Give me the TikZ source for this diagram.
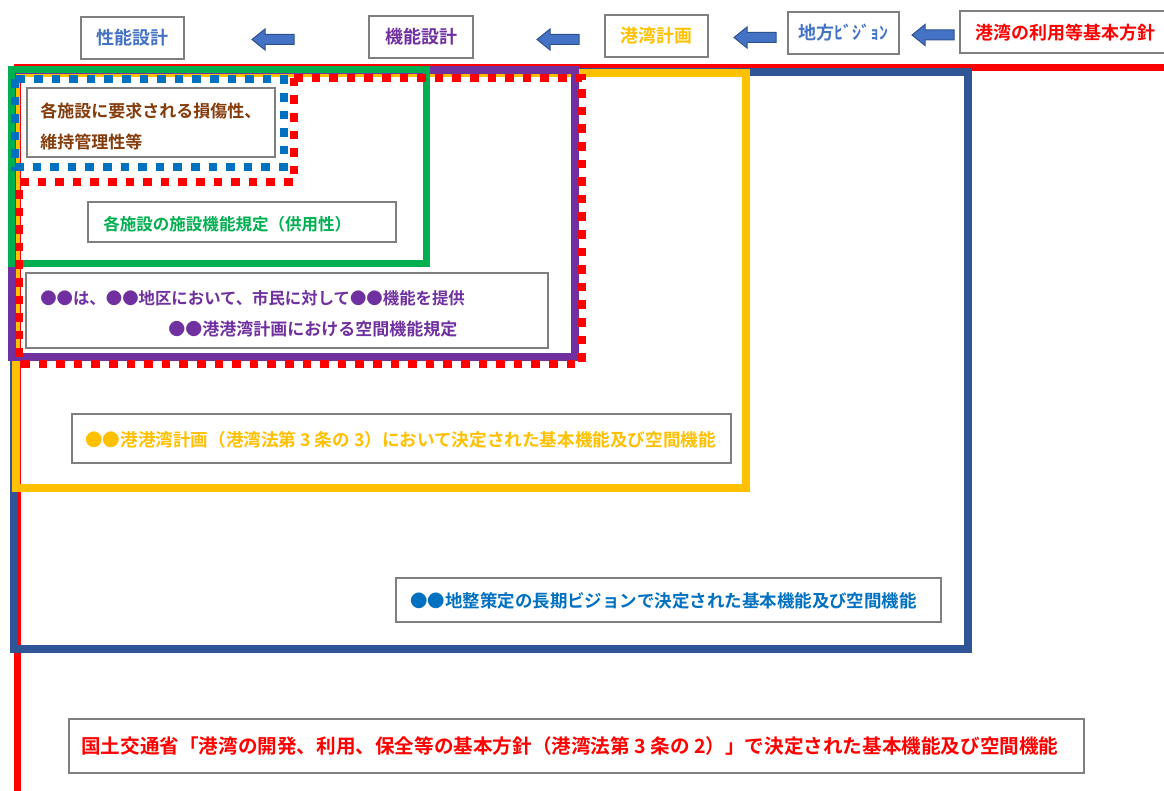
\documentclass[tikz,border=0pt]{standalone}
\usepackage{fontspec}
\setmainfont{Noto Sans CJK JP}[BoldFont={Noto Sans CJK JP Bold}]
\usetikzlibrary{fit}
\definecolor{cred}{HTML}{FF0000}
\definecolor{cdblue}{HTML}{2F5597}
\definecolor{cyellow}{HTML}{FFC000}
\definecolor{cpurple}{HTML}{7030A0}
\definecolor{cgreen}{HTML}{00B050}
\definecolor{cdotblue}{HTML}{0070C0}
\definecolor{ctblue}{HTML}{4472C4}
\definecolor{cbrown}{HTML}{843C0C}
\definecolor{cedge}{HTML}{2F528F}
\definecolor{cgray}{HTML}{7F7F7F}
\tikzset{
  tbox/.style={draw=cgray, line width=1.1pt, fill=white, inner sep=0pt},
  txt/.style={inner sep=0pt, font=\bfseries},
  frameline/.style={line width=6pt},
  dotline/.style={line width=6.4pt, dash pattern=on 6.4pt off 6.8pt},
  blockarrow/.style={fill=ctblue, draw=cedge, line width=0.75pt},
}
\newcommand\fs[1]{\fontsize{#1}{#1}\selectfont}
\newcommand\leftblockarrow[3]{%
  \filldraw[blockarrow] (#1,#2) -- (#1+13,#2-10.5) -- (#1+13,#2-5) -- (#3,#2-5)
    -- (#3,#2+5) -- (#1+13,#2+5) -- (#1+13,#2+10.5) -- cycle;}
\begin{document}
\begin{tikzpicture}[x=0.75pt,y=-0.75pt]
\useasboundingbox (0,0) rectangle (1164,791);
\clip (0,0) rectangle (1164,791);
\fill[white] (0,0) rectangle (1164,791);
% nested frames
\draw[frameline, cred, line width=5.25pt] (17,68) rectangle (1180,795);
\draw[frameline, cdblue] (14,72) rectangle (968,649);
\draw[frameline, cyellow] (16,73) rectangle (746,488);
\draw[frameline, cpurple] (12,70) rectangle (575,357);
\draw[frameline, cgreen, line width=5.25pt] (11,70) rectangle (426,264);
\draw[dotline, cred] (294,78) -- (582,78) -- (582,364) -- (19,364) -- (19,182) -- (294,182) -- cycle;
\draw[dotline, cdotblue] (15,79) rectangle (284,167);
% inner text boxes
\node[tbox, fit={(27,88)(275,157)}] (brownbox) {};
\node[txt, text=cbrown, anchor=west] (brown1) at (40,111) {\fs{12.75pt}各施設に要求される損傷性、};
\node[txt, text=cbrown, anchor=west] (brown2) at (40,142) {\fs{12.75pt}維持管理性等};
\node[tbox, fit={(88,202)(396,242)}] (greenbox) {};
\node[txt, text=cgreen, anchor=west] (greentxt) at (103,224) {\fs{12.4pt}各施設の施設機能規定（供用性）};
\node[tbox, fit={(26,273)(548,348)}] (purplebox) {};
\node[txt, text=cpurple, anchor=west] (purple1) at (40,298) {\fs{12.3pt}●●は、●●地区において、市民に対して●●機能を提供};
\node[txt, text=cpurple, anchor=west] (purple2) at (168,329) {\fs{12.75pt}●●港港湾計画における空間機能規定};
\node[tbox, fit={(72,414)(731,463)}] (yellowbox) {};
\node[txt, text=cyellow, anchor=west] (yellowtxt) at (85,440) {\fs{13.2pt}●●港港湾計画（港湾法第 3 条の 3）において決定された基本機能及び空間機能};
\node[tbox, fit={(396,578)(941,622)}] (bluebox) {};
\node[txt, text=cdotblue, anchor=west] (bluetxt) at (410,601) {\fs{13.1pt}●●地整策定の長期ビジョンで決定された基本機能及び空間機能};
\node[tbox, fit={(69,719)(1084,773)}] (redbox) {};
\node[txt, text=cred, anchor=west] (redtxt) at (81,746) {\fs{14.7pt}国土交通省「港湾の開発、利用、保全等の基本方針（港湾法第 3 条の 2）」で決定された基本機能及び空間機能};
% top row
\node[tbox, fit={(81,17)(184,59)}] (perf) {};
\node[txt, text=ctblue] at (perf) {\fs{13.5pt}性能設計};
\node[tbox, fit={(369,16)(473,58)}] (func) {};
\node[txt, text=cpurple] at (func) {\fs{13.5pt}機能設計};
\node[tbox, fit={(605,15)(708,57)}] (plan) {};
\node[txt, text=cyellow] at (plan) {\fs{13.5pt}港湾計画};
\node[tbox, fit={(788,12)(899,54)}] (vision) {};
\node[txt, text=ctblue] at (vision) {\fs{13.5pt}地方ﾋﾞｼﾞｮﾝ};
\node[tbox, fit={(960,11)(1175,53)}] (policy) {};
\node[txt, text=cred, anchor=west] at (975,33) {\fs{13.5pt}港湾の利用等基本方針};
% arrows
\leftblockarrow{252}{39.5}{294}
\leftblockarrow{537}{39.5}{579}
\leftblockarrow{734}{37.5}{776}
\leftblockarrow{912}{35}{954}
\end{tikzpicture}
\end{document}
